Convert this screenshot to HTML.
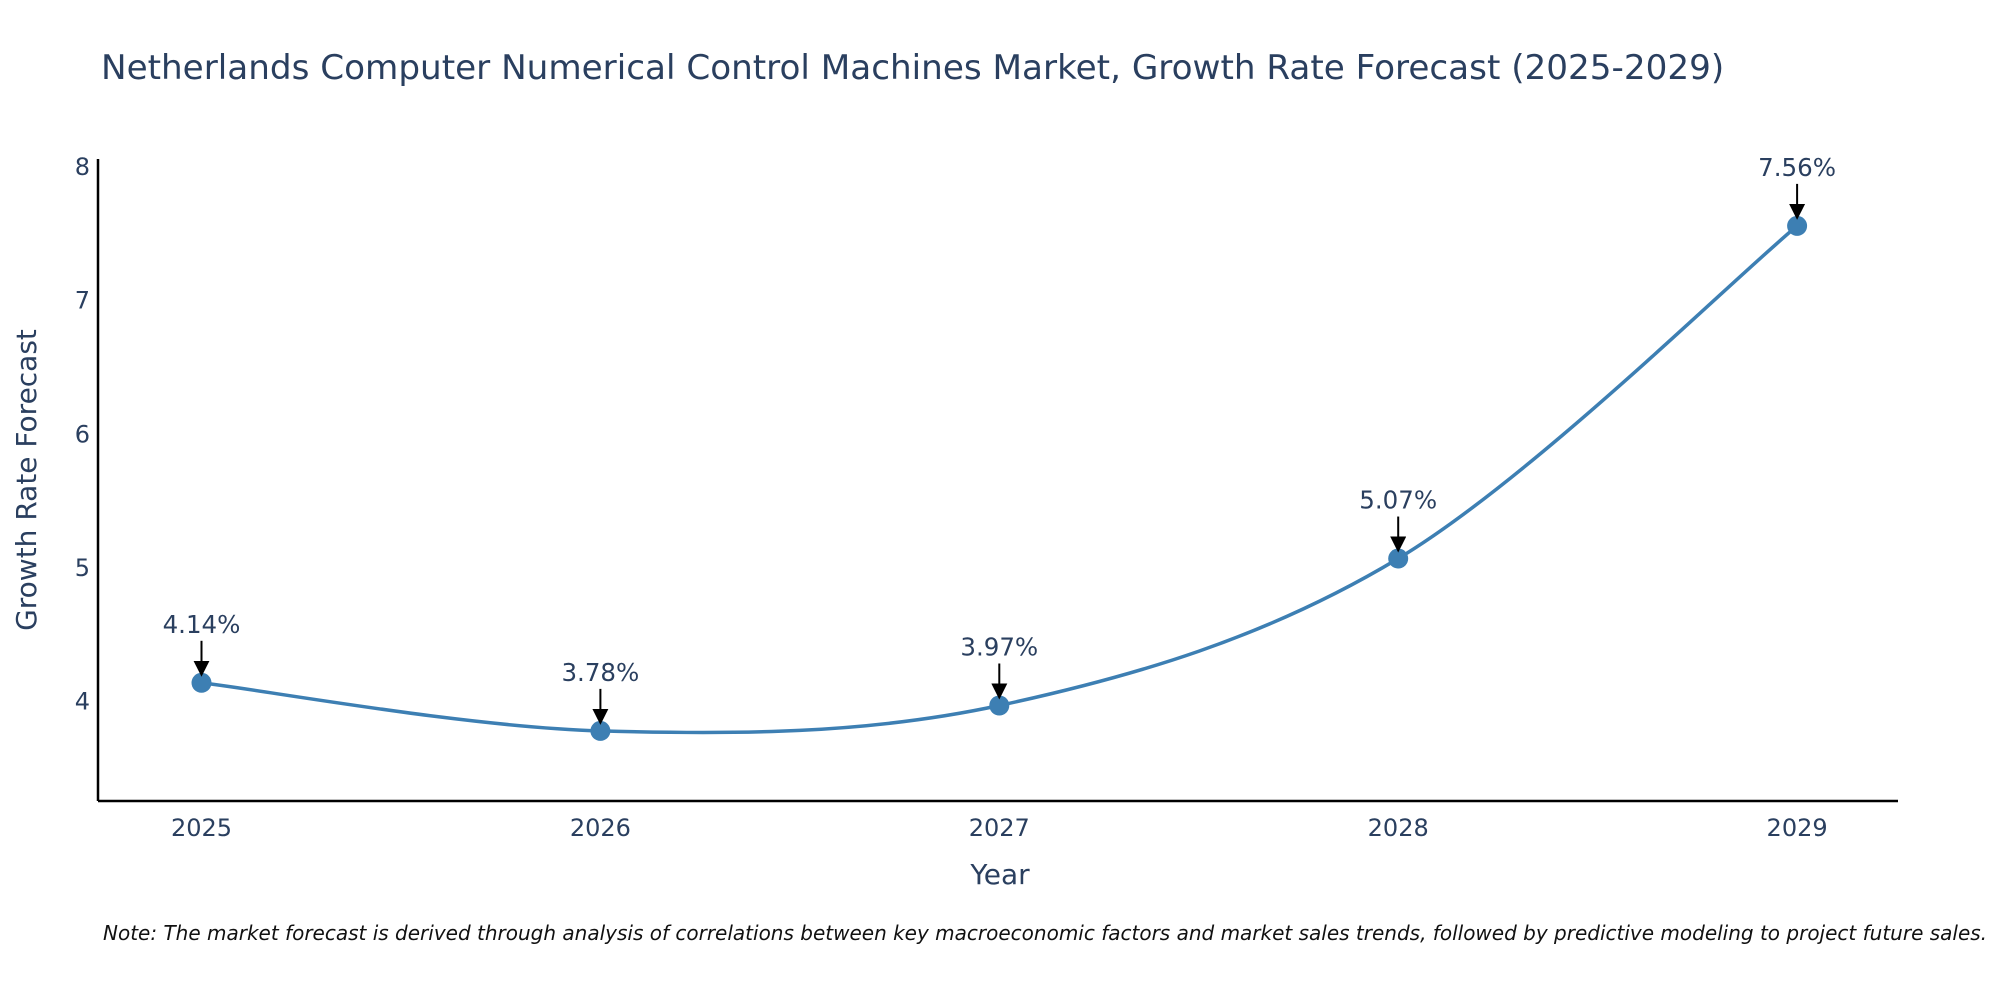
<!DOCTYPE html>
<html><head><meta charset="utf-8"><style>
html,body{margin:0;padding:0;background:#fff;}
svg text{font-family:"DejaVu Sans","Liberation Sans",sans-serif;fill:#2a3f5f;}
</style></head><body>
<svg id="chart" width="2000" height="1000" xmlns="http://www.w3.org/2000/svg">
<defs><marker id="ah" markerWidth="8" markerHeight="8" refX="6" refY="4" orient="auto" markerUnits="strokeWidth"><path d="M0,0 L8,4 L0,8 z" fill="#000"/></marker></defs>
<text x="101" y="79" font-size="34.2">Netherlands Computer Numerical Control Machines Market, Growth Rate Forecast (2025-2029)</text>
<g id="plot"></g>
<text x="36" y="480" font-size="28" transform="rotate(-90 36 480)" text-anchor="middle">Growth Rate Forecast</text>
<text x="1000" y="884" font-size="28" text-anchor="middle">Year</text>
<text x="103" y="940" font-size="20" font-style="italic" style="fill:#111">Note: The market forecast is derived through analysis of correlations between key macroeconomic factors and market sales trends, followed by predictive modeling to project future sales.</text>
</svg>
<script>
const years=[2025,2026,2027,2028,2029];
const values=[4.14,3.78,3.97,5.07,7.56];
const labels=["4.14%","3.78%","3.97%","5.07%","7.56%"];
const yTicks=[4,5,6,7,8];
const NS="http://www.w3.org/2000/svg";
const g=document.getElementById('plot');
const xS=v=>201.5+(v-2025)*398.9;
const yS=v=>701.5-(v-4)*133.6;
function mk(t,a,p){const e=document.createElementNS(NS,t);for(const k in a)e.setAttribute(k,a[k]);(p||g).appendChild(e);return e;}
const xa=mk('line',{x1:98,y1:801,x2:1898,y2:801,stroke:'#000','stroke-width':2.5});


const ya=mk('line',{x1:98,y1:159,x2:98,y2:801,stroke:'#000','stroke-width':2.5});


yTicks.forEach(v=>{const t=mk('text',{x:90,y:yS(v)+8,'font-size':24,'text-anchor':'end'});t.textContent=v;

});
years.forEach(v=>{const t=mk('text',{x:xS(v),y:836,'font-size':24,'text-anchor':'middle'});t.textContent=v;

});
const pts=years.map((y,i)=>[xS(y),yS(values[i])]);
let d='M'+pts[0][0]+','+pts[0][1];const s=0.5/3*2;
for(let i=0;i<pts.length-1;i++){const p0=pts[i-1]||pts[i],p1=pts[i],p2=pts[i+1],p3=pts[i+2]||p2;
const c1=[p1[0]+(p2[0]-p0[0])*s/2,p1[1]+(p2[1]-p0[1])*s/2],c2=[p2[0]-(p3[0]-p1[0])*s/2,p2[1]-(p3[1]-p1[1])*s/2];
d+=` C${c1[0]},${c1[1]} ${c2[0]},${c2[1]} ${p2[0]},${p2[1]}`;}
const ln=mk('path',{d:d,fill:'none',stroke:'#3d7fb3','stroke-width':3.5});


pts.forEach((p,i)=>{const c=mk('circle',{cx:p[0],cy:p[1],r:10,fill:'#3d7fb3'});


const a=mk('line',{x1:p[0],y1:p[1]-42,x2:p[0],y2:p[1]-10,stroke:'#000','stroke-width':2,'marker-end':'url(#ah)'});


const t=mk('text',{x:p[0],y:p[1]-50,'font-size':24.5,'text-anchor':'middle'});t.textContent=labels[i];

});
</script>
</body></html>
